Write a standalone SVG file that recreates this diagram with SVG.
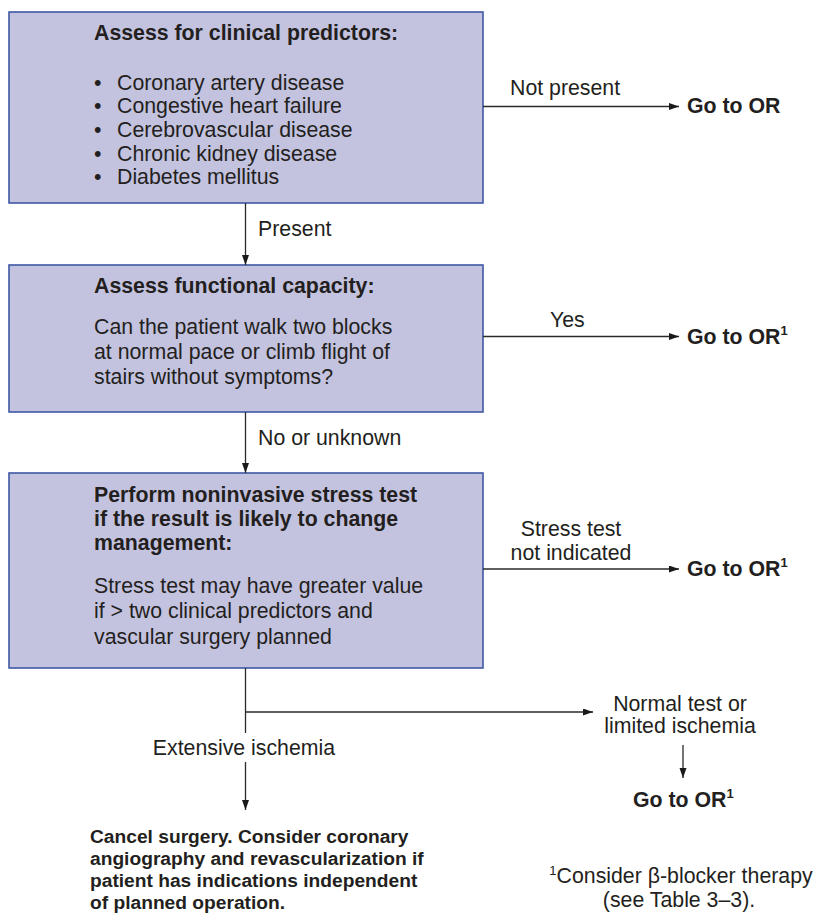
<svg xmlns="http://www.w3.org/2000/svg" width="815" height="916" viewBox="0 0 815 916">
<style>
.box{fill:#c3c3df;stroke:#3f58a6;stroke-width:1.6}
text{font-family:"Liberation Sans",Arial,Helvetica,sans-serif;fill:#231f20;font-size:21.3px}
.b{font-weight:bold}
.m{text-anchor:middle}
.sm{font-size:19.2px}
.conn line{stroke:#2a2a2a;stroke-width:1.3;fill:none}
.sup{font-size:13px}
</style>
<defs>
<marker id="ah" markerUnits="userSpaceOnUse" markerWidth="11" markerHeight="8" refX="10" refY="3.5" orient="auto">
<path d="M0,0 L10,3.5 L0,7 z" fill="#1a1a1a"/>
</marker>
</defs>
<rect width="815" height="916" fill="#ffffff"/>

<g id="node-predictors">
<rect class="box" x="9" y="12" width="474" height="191"/>
<text class="b" x="94" y="40">Assess for clinical predictors:</text>
<text x="94" y="89.5">•</text><text x="117" y="89.5">Coronary artery disease</text>
<text x="94" y="113">•</text><text x="117" y="113">Congestive heart failure</text>
<text x="94" y="137">•</text><text x="117" y="137">Cerebrovascular disease</text>
<text x="94" y="160.7">•</text><text x="117" y="160.7">Chronic kidney disease</text>
<text x="94" y="184.3">•</text><text x="117" y="184.3">Diabetes mellitus</text>
</g>

<g id="node-functional">
<rect class="box" x="9" y="265" width="474" height="147"/>
<text class="b" x="94" y="293.3">Assess functional capacity:</text>
<text x="94" y="334">Can the patient walk two blocks</text>
<text x="94" y="358.5">at normal pace or climb flight of</text>
<text x="94" y="383.5">stairs without symptoms?</text>
</g>

<g id="node-stress">
<rect class="box" x="9" y="473" width="474" height="195"/>
<text class="b" x="94" y="501.7">Perform noninvasive stress test</text>
<text class="b" x="94" y="526">if the result is likely to change</text>
<text class="b" x="94" y="550">management:</text>
<text x="94" y="592.7">Stress test may have greater value</text>
<text x="94" y="618.3">if &gt; two clinical predictors and</text>
<text x="94" y="644">vascular surgery planned</text>
</g>

<g id="node-or1">
<text class="b" x="687" y="113.3">Go to OR</text>
</g>
<g id="node-or2">
<text class="b" x="687" y="344">Go to OR<tspan class="sup" dy="-9">1</tspan></text>
</g>
<g id="node-or3">
<text class="b" x="687" y="575.5">Go to OR<tspan class="sup" dy="-9">1</tspan></text>
</g>
<g id="node-normal">
<text class="m" x="680" y="711">Normal test or</text>
<text class="m" x="680" y="733">limited ischemia</text>
</g>
<g id="node-or4">
<text class="b" x="633" y="807">Go to OR<tspan class="sup" dy="-9">1</tspan></text>
</g>
<g id="node-cancel">
<text class="b sm" x="90" y="843">Cancel surgery. Consider coronary</text>
<text class="b sm" x="90" y="865">angiography and revascularization if</text>
<text class="b sm" x="90" y="887">patient has indications independent</text>
<text class="b sm" x="90" y="909">of planned operation.</text>
</g>
<g id="footnote">
<text class="m" x="681" y="883"><tspan class="sup" dy="-8">1</tspan><tspan dy="8">Consider β-blocker therapy</tspan></text>
<text class="m" x="679" y="907">(see Table 3–3).</text>
</g>

<g id="connectors" class="conn">
<line x1="245.5" y1="203" x2="245.5" y2="265" marker-end="url(#ah)"/>
<line x1="245.5" y1="412" x2="245.5" y2="473" marker-end="url(#ah)"/>
<line x1="483" y1="106.5" x2="679" y2="106.5" marker-end="url(#ah)"/>
<line x1="483" y1="336.5" x2="679" y2="336.5" marker-end="url(#ah)"/>
<line x1="483" y1="569" x2="679" y2="569" marker-end="url(#ah)"/>
<line x1="245.5" y1="668" x2="245.5" y2="733"/>
<line x1="245.5" y1="762" x2="245.5" y2="810" marker-end="url(#ah)"/>
<line x1="245.5" y1="712" x2="593" y2="712" marker-end="url(#ah)"/>
<line x1="683" y1="745" x2="683" y2="778" marker-end="url(#ah)"/>
</g>

<g id="labels">
<text x="258" y="236">Present</text>
<text x="258" y="445">No or unknown</text>
<text x="510" y="95">Not present</text>
<text x="550" y="326.5">Yes</text>
<text class="m" x="571" y="536">Stress test</text>
<text class="m" x="571" y="560">not indicated</text>
<text class="m" x="244" y="755">Extensive ischemia</text>
</g>
</svg>
